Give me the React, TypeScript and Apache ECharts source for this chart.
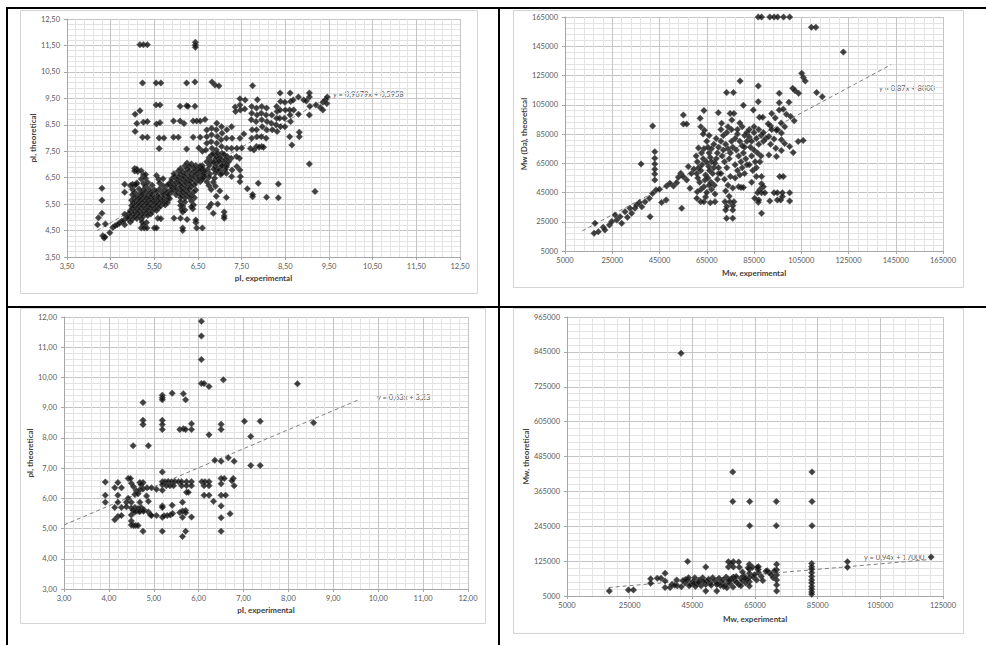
import React, { useEffect, useRef } from "react";
import * as echarts from "echarts";

const FONT = 'Lato, "Liberation Sans", sans-serif';

// ---------- Panel 1: pI experimental vs pI theoretical (training set) ----------
const pi1Points: number[][] = [
  [5.17,11.53],[5.25,11.53],[5.34,11.53],[6.44,11.62],[6.44,11.52],[6.44,11.43],
  [5.23,10.08],[5.54,10.08],[5.65,10.08],[6.24,10.08],[6.43,10.12],[6.82,10.12],[6.89,10.0],[6.98,9.97],[7.75,9.98],
  [5.54,9.25],[5.63,9.25],[6.09,9.2],[6.24,9.22],[6.27,9.2],[6.43,9.2],[5.17,9.03],[5.06,8.9],
  [5.1,8.55],[5.25,8.6],[5.34,8.62],[5.55,8.53],[5.63,8.58],[5.94,8.64],[6.09,8.64],[6.18,8.55],[6.39,8.64],[6.47,8.64],[6.55,8.64],[6.66,8.7],[5.06,8.25],
  [5.23,8.03],[5.34,8.03],[5.61,8.0],[5.72,8.0],[5.94,8.03],[6.05,8.03],[6.39,8.03],[6.55,8.03],
  [5.61,7.6],[6.24,7.58],[6.52,7.62],[6.6,7.5],
  [6.7,8.3],[6.7,8.05],[6.7,7.8],[6.68,7.55],
  [6.81,8.37],[6.81,8.12],[6.8,7.86],[6.82,7.61],[6.81,7.36],[6.8,7.11],
  [6.93,8.56],[6.92,8.31],[6.94,8.06],[6.93,7.8],[6.92,7.55],[6.93,7.3],[6.94,7.05],[6.93,6.79],
  [7.04,8.43],[7.05,8.18],[7.03,7.93],[7.04,7.68],[7.05,7.42],[7.04,7.17],[7.03,6.92],[7.05,6.67],
  [7.16,8.31],[7.15,7.99],[7.16,7.61],[7.17,7.3],[7.16,6.98],[7.15,6.67],
  [7.27,8.43],[7.28,7.99],[7.27,7.61],[7.26,7.23],[7.28,6.79],[7.27,6.54],
  [7.39,7.61],[7.38,7.3],[7.39,6.92],[7.35,9.17],[7.36,9.0],
  [7.46,9.48],[7.46,9.25],[7.47,9.06],[7.46,7.99],[7.45,7.23],[7.46,6.79],[7.47,6.54],[7.46,6.35],
  [7.58,9.44],[7.57,9.1],[7.5,7.62],[7.55,8.15],
  [7.73,9.19],[7.73,8.94],[7.72,8.69],[7.74,8.31],[7.73,7.99],[7.7,7.6],[7.78,7.55],
  [7.84,9.13],[7.85,8.87],[7.83,8.62],[7.84,8.31],[7.85,8.05],[7.84,7.68],[7.86,9.45],
  [7.96,9.19],[7.95,8.94],[7.96,8.69],[7.97,8.43],[7.95,8.05],[7.96,7.68],
  [8.07,9.13],[8.06,8.87],[8.08,8.62],[8.07,8.31],[8.06,7.99],
  [8.19,8.87],[8.18,8.56],[8.2,8.31],
  [8.3,9.19],[8.31,9.0],[8.3,8.75],[8.29,8.5],[8.31,8.25],
  [8.38,9.7],[8.39,9.38],[8.38,9.06],[8.37,8.75],[8.39,8.43],
  [8.49,9.35],[8.5,9.06],[8.48,8.75],[8.49,8.43],
  [8.61,9.7],[8.62,9.38],[8.6,9.06],[8.61,8.87],[8.62,8.62],
  [8.68,9.44],[8.69,9.06],
  [8.8,9.55],[8.8,8.9],[8.92,9.44],[8.98,9.4],[9.05,9.7],[9.05,9.55],[9.06,9.2],[9.05,8.87],[9.2,9.25],[9.3,9.15],[9.36,9.35],[9.42,9.45],[9.46,9.55],[9.36,9.06],[9.45,9.3],
  [8.65,7.74],[8.6,8.05],[8.82,8.05],[8.82,8.22],[9.05,7.02],[9.18,5.98],[8.34,6.26],[8.34,5.74],[8.07,5.76],[7.88,6.29],[7.75,5.78],[7.75,5.86],[7.63,6.08],[7.9,7.65],[8.0,7.65],
  [6.85,7.4],[6.95,7.42],[7.1,7.38],
  [6.75,7.25],[6.9,7.22],[7.0,7.27],[7.13,7.2],
  [6.7,7.1],[6.86,7.08],[6.98,7.12],[7.1,7.05],[7.2,7.1],
  [6.6,6.95],[6.76,6.97],[6.9,6.92],[7.05,6.95],[7.15,6.9],
  [6.58,6.82],[6.72,6.8],[6.86,6.83],[6.98,6.78],[7.12,6.8],
  [6.64,6.66],[6.77,6.64],[6.9,6.68],[7.02,6.62],
  [6.62,6.5],[6.75,6.52],[6.88,6.48],
  [6.7,6.35],[6.85,6.33],[6.75,6.2],[6.9,6.18],[6.8,6.05],
  [6.85,5.15],[6.75,5.38],[6.8,5.5],[6.95,5.5],[7.15,5.75],[7.1,5.2],[7.1,5.05],[7.1,4.97],[6.92,5.8],[7.0,6.0],
  [6.25,7.05],[6.35,7.02],
  [6.2,6.95],[6.3,6.93],[6.45,6.96],[6.55,6.94],
  [6.1,6.85],[6.25,6.84],[6.4,6.87],[6.5,6.83],[6.6,6.86],
  [6.05,6.75],[6.15,6.73],[6.3,6.76],[6.42,6.74],[6.55,6.77],[6.65,6.74],
  [5.95,6.65],[6.1,6.63],[6.22,6.66],[6.35,6.64],[6.48,6.67],[6.6,6.62],
  [5.96,6.55],[6.05,6.53],[6.18,6.56],[6.3,6.54],[6.42,6.57],[6.52,6.53],[6.65,6.56],
  [5.9,6.45],[6.02,6.44],[6.15,6.47],[6.25,6.43],[6.38,6.46],[6.5,6.44],[6.6,6.46],
  [5.88,6.35],[6.0,6.33],[6.1,6.36],[6.22,6.34],[6.33,6.37],[6.45,6.33],[6.55,6.35],
  [5.85,6.25],[5.95,6.23],[6.08,6.26],[6.18,6.24],[6.3,6.27],[6.42,6.23],
  [5.9,6.15],[6.0,6.13],[6.12,6.16],[6.25,6.14],[6.35,6.17],
  [5.88,6.05],[5.98,6.03],[6.1,6.06],[6.2,6.04],[6.3,6.07],[6.45,6.03],
  [5.9,5.95],[6.05,5.94],[6.15,5.97],[6.28,5.93],[6.4,5.96],
  [6.0,5.85],[6.12,5.84],[6.22,5.87],[6.35,5.83],
  [6.1,5.75],[6.2,5.73],[6.3,5.76],[6.42,5.74],
  [6.1,5.6],[6.2,5.58],[6.35,5.62],
  [6.1,5.45],[6.15,5.43],[6.4,5.47],
  [6.12,5.3],[6.2,5.28],[6.38,5.32],[6.15,5.2],
  [6.15,4.6],[6.15,4.5],[6.47,4.6],[6.6,4.6],[6.45,4.8],[6.45,4.9],[6.25,4.92],[6.1,4.97],[5.95,4.97],[6.35,5.4],
  [5.05,6.85],[5.1,6.82],
  [5.05,6.75],[5.12,6.73],[5.2,6.76],
  [5.25,6.6],[5.3,6.62],[5.55,6.58],
  [5.2,6.45],[5.3,6.47],[5.6,6.44],[5.7,6.46],
  [5.1,6.3],[5.25,6.28],[5.35,6.32],[5.62,6.3],
  [4.95,6.2],[5.05,6.22],[5.3,6.18],[5.45,6.21],[5.7,6.19],[5.8,6.22],
  [5.0,6.05],[5.15,6.07],[5.25,6.04],[5.38,6.06],[5.5,6.03],[5.62,6.07],[5.75,6.04],
  [5.05,5.95],[5.2,5.93],[5.3,5.96],[5.42,5.94],[5.55,5.97],[5.68,5.93],[5.8,5.95],
  [5.0,5.85],[5.12,5.83],[5.22,5.86],[5.35,5.84],[5.45,5.87],[5.58,5.83],[5.72,5.86],
  [5.05,5.75],[5.15,5.73],[5.25,5.76],[5.32,5.74],[5.42,5.77],[5.5,5.73],[5.6,5.76],[5.7,5.74],[5.82,5.77],
  [4.98,5.65],[5.08,5.63],[5.18,5.66],[5.28,5.64],[5.38,5.67],[5.48,5.63],[5.58,5.66],[5.68,5.64],[5.78,5.66],
  [5.02,5.55],[5.12,5.53],[5.22,5.56],[5.32,5.54],[5.42,5.57],[5.52,5.53],[5.62,5.56],[5.72,5.54],
  [4.98,5.45],[5.05,5.43],[5.15,5.46],[5.25,5.44],[5.35,5.47],[5.45,5.43],[5.55,5.46],[5.65,5.44],[5.75,5.47],
  [5.0,5.35],[5.1,5.33],[5.2,5.36],[5.3,5.34],[5.4,5.37],[5.5,5.33],[5.6,5.36],
  [4.95,5.25],[5.05,5.23],[5.15,5.26],[5.25,5.24],[5.35,5.27],[5.45,5.23],[5.55,5.26],
  [4.92,5.15],[5.02,5.13],[5.12,5.16],[5.22,5.14],[5.32,5.17],[5.42,5.13],
  [4.95,5.05],[5.05,5.03],[5.15,5.06],[5.25,5.04],[5.35,5.07],
  [4.9,4.95],[5.0,4.93],[5.1,4.96],[5.2,4.94],[5.58,4.97],[5.65,4.95],
  [5.22,4.82],[5.32,4.8],[5.25,4.72],
  [5.2,4.6],[5.27,4.6],[5.33,4.6],[5.5,4.6],[5.55,4.6],
  [5.8,5.55],[5.85,5.7],[5.82,5.85],
  [4.22,4.98],[4.2,4.72],[4.3,6.1],[4.3,5.65],[4.3,5.15],[4.32,4.3],[4.35,4.22],[4.37,4.26],[4.38,4.75],[4.48,4.42],[4.55,4.62],[4.6,4.68],[4.65,4.72],[4.7,4.78],[4.75,4.85],[4.8,4.88],[4.82,4.72],[4.82,5.12],[4.82,5.95],[4.82,6.25],[4.88,5.0],[4.95,4.82],[5.0,6.25],[5.08,6.24]
];
const pi1Trend: number[][] = [[4.19, 4.5], [9.49, 9.55]];
const pi1TrendLabel = "y = 0,9679x + 0,5958";

// ---------- Panel 2: Mw experimental vs Mw (Da) theoretical ----------
const mw1Points: number[][] = [
  [86800,165000],[88200,165000],[91700,165000],[93500,165000],[95000,165000],[97500,165000],[100100,165000],[109300,158000],[111200,158000],[122800,141000],
  [105200,126500],[105900,123700],[106700,121200],[101400,116200],[102400,114600],[103900,112800],[111500,113300],[113900,110500],[95700,112800],[95700,106400],[95700,101400],[99800,106700],[97400,102000],[98700,98500],[100500,97000],[102000,94000],[92500,99000],[94000,96000],[96500,92500],[98000,90000],[95000,88000],[92000,90500],
  [79100,121200],[86800,117800],[73400,113300],[76300,113300],[80500,104600],[63800,101000],[62200,95700],[84700,101400],[87300,96400],[88700,96400],[86800,107100],[55100,98000],[55100,91800],[56500,91800],[69900,99600],[74900,99100],[76500,99100],[75600,94600],[71300,92300],[62500,90000],[64000,87500],[63500,85000],[42100,90500],
  [43000,72900],[43000,68400],[43000,64500],[43000,60900],[43000,57700],[43000,53600],[37200,64500],
  [17700,23900],[17300,17100],[19100,18200],[21200,21200],[21900,19400],[23800,22800],[24800,25100],[26200,29600],[26900,26200],[28300,28500],[29000,23900],[30400,31900],[31400,28000],[32500,34200],[33200,30800],[34600,34200],[35300,36500],[36500,38100],[37500,35300],[38900,38700],[40700,41000],[41000,28500],[42100,44400],[43500,46700],[45000,47200],[45900,38100],[47800,39900],[48000,49400],[49400,51300],[50900,49400],[52300,51700],[53000,55400],[54000,58100],[55100,55800],[54400,34200],[57200,62700],[57900,47900],[56500,53600],[58500,58000],[59500,61000],
  [60500,70000],[61000,66000],[61500,62000],[60800,58000],[61200,55000],[62000,52000],[62500,60000],[63000,64000],[63500,68000],[62800,72000],[63800,75000],[61500,75500],[64500,57000],[64200,53500],[63800,49000],[62500,47000],[61000,45500],[60800,41000],[62400,38700],[63800,38700],[64500,42000],
  [65000,80000],[65500,76000],[66000,72000],[66500,69000],[67000,66000],[65800,63000],[66200,60000],[67500,58000],[68000,62000],[68500,65000],[69000,68000],[69500,72000],[67000,75000],[68000,78000],[66000,84000],[69000,82000],[65500,55000],[66800,52000],[68200,50000],[69500,54000],[70000,58000],[67000,47000],[68500,44000],[65000,45000],[66500,38000],[68500,38700],[66000,50000],[64800,66000],[70000,62000],[70000,76000],
  [71000,80000],[72000,84000],[73000,78000],[74000,75000],[75000,72000],[71500,70000],[72500,66000],[73500,62000],[74500,68000],[75500,80000],[76000,76000],[72000,74000],[71000,58000],[72500,54000],[74000,50000],[75000,56000],[73000,46000],[72700,38700],[74800,38700],[76500,38700],[73400,27400],[76000,27400],[73000,33000],[73500,35500],[76000,33000],[76000,36000],[74500,42500],[76000,48000],[71000,88000],[73500,86000],[75500,88000],[74000,90000],
  [77000,82000],[78000,85000],[79000,80000],[80000,77000],[81000,84000],[82000,80000],[77500,74000],[78500,70000],[79500,66000],[80500,72000],[81500,68000],[77000,64000],[78000,60000],[79000,57000],[80000,62000],[81000,58000],[82000,64000],[77000,55000],[78500,49000],[79500,48500],[80500,48500],[78000,88000],[80000,90000],[79000,92500],[82000,86000],[81000,76000],
  [83000,83000],[84000,80000],[85000,86000],[86000,82000],[87000,78000],[88000,84000],[89000,80000],[83500,76000],[85000,74000],[86500,72000],[88000,70000],[84000,70000],[85500,66000],[83000,64000],[84500,60000],[86000,62000],[87500,66000],[83000,88000],[85000,90000],[87000,88000],[89000,86000],[90000,82000],[86000,55900],[88200,55900],[88200,51000],[89000,49000],[87500,47000],[88200,44800],[86500,44800],[89600,44800],[86800,38300],[87000,39900],[85300,41000],[88200,30800],[84000,52000],
  [91000,92000],[92500,88000],[94500,87500],[96600,85600],[91300,83300],[93500,81500],[96600,81000],[94200,75300],[96600,73700],[91300,70700],[94500,69600],[100100,76500],[101600,72300],[103700,79900],[105800,80600],[95900,55900],[97400,55900],[93500,44800],[94900,44800],[97000,44800],[100100,44800],[91700,39200],[94900,39900],[96300,39900],[97000,42200],[100100,39200],[92000,78000],[98000,78500]
];
const mw1Trend: number[][] = [[12300, 18700], [143100, 132500]];
const mw1TrendLabel = "y = 0,87x + 8000";

// ---------- Panel 3: pI experimental vs pI theoretical (test set) ----------
const pi2Points: number[][] = [
  [6.06,11.86],[6.06,11.37],[6.06,10.59],[6.06,9.8],[6.12,9.8],[6.23,9.7],[6.55,9.92],[8.2,9.79],[5.41,9.48],[5.66,9.46],[5.19,9.41],[5.19,9.33],[5.19,9.26],[5.71,9.26],[4.76,9.17],
  [4.76,8.58],[4.76,8.44],[5.19,8.58],[5.19,8.44],[5.19,8.28],[5.58,8.28],[5.66,8.3],[5.71,8.28],[5.84,8.47],[5.84,8.28],[6.5,8.45],[6.5,8.28],[6.23,8.1],[7.02,8.55],[7.37,8.55],[7.16,8.05],[7.16,7.09],[7.37,7.09],[8.56,8.5],
  [4.54,7.74],[4.88,7.74],[6.36,7.26],[6.5,7.23],[6.66,7.34],[6.79,7.23],[5.19,6.87],
  [3.92,6.54],[4.2,6.52],[4.43,6.66],[4.48,6.66],[4.69,6.52],[4.76,6.52],[5.19,6.55],[5.25,6.55],[5.32,6.56],[5.4,6.55],[5.47,6.56],[5.55,6.55],[5.62,6.55],[5.73,6.55],[5.84,6.55],[6.07,6.55],[6.14,6.55],[6.23,6.55],[6.5,6.66],[6.57,6.66],[6.77,6.66],[6.74,6.58],
  [4.5,6.5],[4.72,6.45],[5.19,6.45],[5.28,6.42],[5.36,6.42],[5.44,6.42],[5.62,6.42],[5.73,6.42],[5.84,6.42],[6.12,6.42],[6.23,6.42],[6.5,6.48],[6.79,6.42],
  [4.13,6.35],[4.28,6.35],[4.61,6.25],[4.69,6.28],[4.76,6.32],[4.85,6.35],[4.95,6.35],[5.06,6.3],[5.19,6.27],[4.55,6.38],
  [3.92,6.1],[4.2,6.1],[4.58,6.13],[4.65,6.15],[4.84,6.08],[5.73,6.2],[5.77,6.2],[6.12,6.1],[6.23,6.1],[6.5,6.1],[6.6,6.1],[6.33,5.9],[4.43,6.0],[4.88,5.9],
  [3.92,5.87],[4.2,5.87],[4.39,5.87],[4.5,5.87],[4.69,5.87],[5.19,5.75],[5.19,5.7],[5.64,5.87],[6.5,5.75],[5.41,5.77],
  [4.13,5.7],[4.28,5.7],[4.39,5.72],[4.5,5.68],[4.58,5.7],[4.65,5.66],[4.72,5.7],[4.78,5.62],[4.54,5.6],[4.62,5.58],[4.7,5.58],
  [4.5,5.45],[4.58,5.55],[4.68,5.56],[4.77,5.57],[4.88,5.55],[4.93,5.45],[5.06,5.43],[5.19,5.37],[5.23,5.42],[5.3,5.43],[5.37,5.45],[5.42,5.5],[5.58,5.53],[5.64,5.58],[5.71,5.6],[5.71,5.52],[6.7,5.49],[4.95,5.43],
  [4.13,5.29],[4.2,5.4],[4.28,5.43],[5.64,5.37],[5.84,5.38],[6.5,5.36],
  [4.5,5.25],[4.5,5.12],[4.55,5.1],[4.6,5.1],[4.65,5.1],
  [4.76,4.91],[5.19,4.91],[5.71,4.91],[5.64,4.74],[6.5,4.91]
];
const pi2Trend: number[][] = [[3.0, 5.12], [9.58, 9.27]];
const pi2TrendLabel = "y = 0,63x + 3,23";

// ---------- Panel 4: Mw experimental vs Mw theoretical (test set) ----------
const mw2Points: number[][] = [
  [41400,840000],[57900,432000],[83200,432000],[57900,330000],[63300,330000],[71800,330000],[83200,330000],[63300,247000],[71800,247000],[83200,247000],
  [121200,139000],[94500,123000],[94500,104000],[43500,124000],[49300,105000],[56500,123000],[58100,123000],[57400,117000],[56500,105000],[58100,105000],[59800,122000],
  [63200,114000],[63200,97000],[63200,83000],[63200,69000],[63200,54000],[63200,39000],
  [71900,114000],[71900,95000],[71900,77000],[71900,60000],[71900,43000],[71900,22000],
  [83100,117000],[83100,106000],[83100,97000],[83100,85000],[83100,72000],[83100,60000],[83100,50000],[83100,38000],[83100,28000],[83100,19000],[83100,11000],
  [18500,22000],[24600,26000],[26200,26000],[31700,64000],[31700,49000],[36300,83000],[36300,57000],[36300,34000],[35000,66000],[37900,34000],[38500,45000],[40200,40000],[41500,37000],[42700,50000],[43500,60000],[43800,68000],[44500,45000],[45200,55000],[45800,68000],[46500,48000],[47200,60000],[47800,40000],[48300,68000],[49300,22000],[49300,45000],[49500,56000],[50200,63000],[50800,50000],[51500,68000],[52200,58000],[52800,22000],[52800,45000],[53500,66000],[54200,52000],[54800,60000],[55500,42000],[55800,70000],[56500,55000],[57000,48000],[57500,64000],[58100,70000],[58500,58000],[59200,52000],[59800,45000],[60500,66000],[61000,58000],[61500,75000],[62000,50000],[62500,62000],[64500,70000],[65500,60000],[66100,106000],[66100,86000],[67000,72000],[67500,58000],[68500,90000],[69500,85000],[70200,78000],[70800,68000],[71200,92000],
  [45500,48000],[47000,52000],[53000,47000],[54000,41000],[55000,38000],[56000,33000],[40000,60000],[42000,58000],[44000,40000],[46000,38000],[48500,55000],[51000,42000],[58000,36000],[60500,40000],[61800,66000],[64800,78000],[66000,96000],[56800,60000],[59000,72000],[62800,102000],[61000,88000],[60000,104000],[64200,104000],[65800,104000],[68900,92000],[33800,66000],[39400,42000],[42800,62000]
];
const mw2Trend: number[][] = [[18300, 34200], [121000, 130700]];
const mw2TrendLabel = "y = 0,94x + 17000";

// ---------- Axis settings ----------
const panelTitlesX = ["pI, experimental", "Mw, experimental", "pI, experimental", "Mw, experimental"];
const panelTitlesY = ["pI, theoretical", "Mw (Da), theoretical", "pI, theoretical", "Mw, theoretical"];
const xRanges: number[][] = [[3.5, 12.5, 1], [5000, 165000, 20000], [3, 12, 1], [5000, 125000, 20000]];
const yRanges: number[][] = [[3.5, 12.5, 1], [5000, 165000, 20000], [3, 12, 1], [5000, 965000, 120000]];

const commaFmt = (v: number) => v.toFixed(2).replace(".", ",");
const intFmt = (v: number) => String(Math.round(v));

export default function App() {
  const ref = useRef<HTMLDivElement>(null);
  useEffect(() => {
    if (!ref.current) return;
    const chart = echarts.init(ref.current, undefined, { renderer: "svg" });

    const grids = [
      { left: 67, top: 19, width: 393, height: 238 },
      { left: 565, top: 17, width: 378, height: 234 },
      { left: 64, top: 317, width: 404, height: 272 },
      { left: 567, top: 317, width: 376, height: 279 },
    ];
    const fmts = [commaFmt, intFmt, commaFmt, intFmt];
    const xGaps = [17, 18, 17, 19];
    const yGaps = [26, 33, 23, 35];
    const points = [pi1Points, mw1Points, pi2Points, mw2Points];
    const trends = [pi1Trend, mw1Trend, pi2Trend, mw2Trend];

    const axisBase = (i: number, r: number[], name: string, gap: number) => ({
      type: "value",
      gridIndex: i,
      min: r[0],
      max: r[1],
      interval: r[2],
      name,
      nameLocation: "middle",
      nameGap: gap,
      nameTextStyle: { fontSize: 8, fontWeight: "bold", color: "#404040", fontFamily: FONT },
      axisLine: { show: true, onZero: false, lineStyle: { color: "#a6a6a6", width: 1 } },
      axisTick: { show: true, length: 3, lineStyle: { color: "#a6a6a6" } },
      axisLabel: { fontSize: 7.5, color: "#595959", fontFamily: FONT, formatter: fmts[i], margin: 5, showMinLabel: true, showMaxLabel: true },
      splitLine: { show: true, lineStyle: { color: "#c4c4c4", width: 1 } },
      minorTick: { show: false, splitNumber: 5 },
      minorSplitLine: { show: true, lineStyle: { color: "#e3e3e3", width: 1 } },
    });

    const xAxis = [0, 1, 2, 3].map((i) => axisBase(i, xRanges[i], panelTitlesX[i], xGaps[i]));
    const yAxis = [0, 1, 2, 3].map((i) => {
      const a: any = axisBase(i, yRanges[i], panelTitlesY[i], yGaps[i]);
      a.axisLabel.margin = 7;
      return a;
    });

    const series: any[] = [];
    for (let i = 0; i < 4; i++) {
      series.push({
        type: "line",
        xAxisIndex: i,
        yAxisIndex: i,
        data: trends[i],
        symbol: "none",
        silent: true,
        lineStyle: { color: "#7f7f7f", width: 1, type: [4, 3] },
        z: 1,
      });
      series.push({
        type: "scatter",
        xAxisIndex: i,
        yAxisIndex: i,
        data: points[i],
        symbol: "diamond",
        symbolSize: 6.5,
        itemStyle: { color: "#111111", borderColor: "#4d4d4d", borderWidth: 0.6 },
        z: 2,
      });
    }

    const lineStyle = { stroke: "#000000", lineWidth: 2 };
    const boxStyle = { stroke: "#d4d4d4", lineWidth: 1, fill: "none" };
    const trendLabelStyle = { fill: "#595959", fontSize: 7.5, fontFamily: FONT };
    const graphic: any[] = [
      { type: "rect", shape: { x: 20.5, y: 10.5, width: 457, height: 283 }, style: boxStyle, silent: true, z: -10 },
      { type: "rect", shape: { x: 513.5, y: 10.5, width: 450, height: 277 }, style: boxStyle, silent: true, z: -10 },
      { type: "rect", shape: { x: 20.5, y: 308.5, width: 465, height: 315 }, style: boxStyle, silent: true, z: -10 },
      { type: "rect", shape: { x: 513.5, y: 308.5, width: 450, height: 325 }, style: boxStyle, silent: true, z: -10 },
      { type: "line", shape: { x1: 6, y1: 8, x2: 986, y2: 8 }, style: lineStyle, silent: true },
      { type: "line", shape: { x1: 7, y1: 7, x2: 7, y2: 645 }, style: lineStyle, silent: true },
      { type: "line", shape: { x1: 499, y1: 7, x2: 499, y2: 645 }, style: lineStyle, silent: true },
      { type: "line", shape: { x1: 6, y1: 307, x2: 986, y2: 307 }, style: lineStyle, silent: true },
      { type: "text", x: 333, y: 94, style: { ...trendLabelStyle, text: pi1TrendLabel, verticalAlign: "middle" }, silent: true },
      { type: "text", x: 879, y: 88, style: { ...trendLabelStyle, text: mw1TrendLabel, verticalAlign: "middle" }, silent: true },
      { type: "text", x: 377, y: 397, style: { ...trendLabelStyle, text: pi2TrendLabel, verticalAlign: "middle" }, silent: true },
      { type: "text", x: 864, y: 557, style: { ...trendLabelStyle, text: mw2TrendLabel, verticalAlign: "middle" }, silent: true },
    ];

    chart.setOption({
      animation: false,
      backgroundColor: "#ffffff",
      grid: grids,
      xAxis,
      yAxis,
      series,
      graphic,
    });
    return () => chart.dispose();
  }, []);

  return (
    <div
      ref={ref}
      style={{ position: "fixed", left: 0, top: 0, width: 986, height: 645, background: "#fff" }}
    />
  );
}
